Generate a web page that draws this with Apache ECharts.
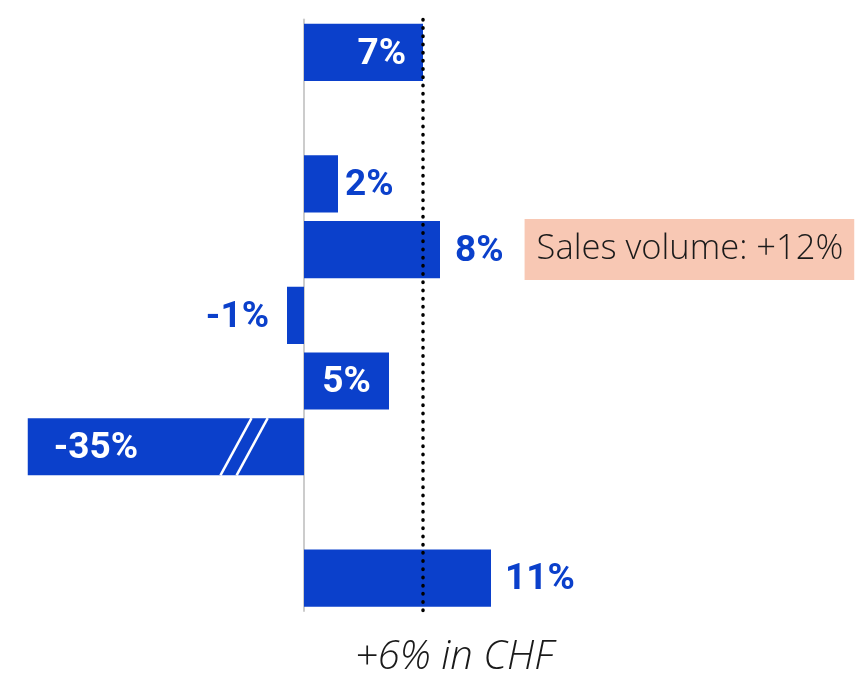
<!DOCTYPE html>
<html>
<head>
<meta charset="utf-8">
<script src="https://cdn.jsdelivr.net/npm/echarts@6/dist/echarts.min.js"></script>
<style>
html,body{margin:0;padding:0;background:#fff;}
#chart{width:861px;height:676px;}
</style>
</head>
<body>
<div id="chart"></div>
<script>
// ---- data ----
const categories = ['r1', 'r2', 'r3', 'r4', 'r5', 'r6', 'r7', 'r8', 'r9'];
const values = [7, null, 2, 8, -1, 5, -35, null, 11];
const labelTexts = ['7%', '', '2%', '8%', '-1%', '5%', '-35%', '', '11%'];
const labelPlacement = ['insideRight', null, 'right', 'right', 'left', 'inside', 'insideLeft', null, 'right'];
const labelDistance = [17, 0, 7, 15, 18, 0, 26, 0, 14];
const annotationIndex = 3;
const annotationText = 'Sales volume: +12%';
const referenceValue = 7;
const referenceLabel = '+6% in CHF';
const breakIndex = 6;
const breakValues = [-4, -3.05];

// ---- styles ----
const BLUE = '#0b40cb';
const FONT = 'Roboto';
const LIGHT_FONT = 'Open Sans';

const barData = values.map(function (v, i) {
  if (v === null) return { value: null };
  const pos = labelPlacement[i];
  const inside = pos.indexOf('inside') === 0;
  let fmt = labelTexts[i];
  const label = {
    show: true,
    position: pos,
    distance: labelDistance[i],
    offset: [0, 2],
    color: inside ? '#ffffff' : BLUE,
    fontFamily: FONT,
    fontWeight: 'bold',
    fontSize: 37
  };
  if (i === annotationIndex) {
    label.offset = [0, 0];
    label.formatter = '{v|' + fmt + '}{gap|}{box|' + annotationText + '}';
    label.rich = {
      v: { color: BLUE, fontFamily: FONT, fontWeight: 'bold', fontSize: 37, padding: [4, 0, 0, 0] },
      gap: { width: 21 },
      box: {
        backgroundColor: '#f8c8b4',
        color: '#1a1a1a',
        fontFamily: LIGHT_FONT,
        fontWeight: 300,
        fontSize: 34.5,
        padding: [13, 11, 13, 12]
      }
    };
  } else {
    label.formatter = fmt;
  }
  return { value: v, label: label };
});

const breakData = breakValues.map(function (b) { return [b, breakIndex]; });

const chart = echarts.init(document.getElementById('chart'), null, { renderer: 'canvas' });
chart.setOption({
  animation: false,
  backgroundColor: '#ffffff',
  title: {
    text: referenceLabel,
    left: 350,
    top: 633,
    textStyle: { fontFamily: LIGHT_FONT, fontStyle: 'italic', fontWeight: 300, fontSize: 40, color: '#1a1a1a' }
  },
  grid: { left: 27.75, right: 280.75, top: 19.6, bottom: 65, containLabel: false },
  xAxis: {
    type: 'value',
    min: -16.25,
    max: 16.25,
    show: false,
    splitLine: { show: false }
  },
  yAxis: {
    type: 'category',
    data: categories,
    inverse: true,
    axisLine: { show: true, onZero: true, lineStyle: { color: '#cccccc', width: 2 } },
    axisTick: { show: false },
    axisLabel: { show: false },
    splitLine: { show: false }
  },
  series: [
    {
      type: 'bar',
      data: barData,
      barWidth: '87%',
      itemStyle: { color: BLUE },
      clip: true,
      z: 2,
      markLine: {
        silent: true,
        symbol: 'none',
        label: { show: false },
        lineStyle: { color: '#000000', width: 3.5, type: [0.5, 7.7], cap: 'round' },
        data: [{ xAxis: referenceValue }]
      }
    },
    {
      type: 'custom',
      data: breakData,
      z: 5,
      renderItem: function (params, api) {
        const c = api.coord([api.value(0), api.value(1)]);
        const h = api.size([0, 1])[1] * 0.87;
        const dx = h * 0.272;
        return {
          type: 'line',
          shape: { x1: c[0] + dx, y1: c[1] - h / 2, x2: c[0] - dx, y2: c[1] + h / 2 },
          style: { stroke: '#ffffff', lineWidth: 2.5 }
        };
      }
    }
  ]
});
</script>
</body>
</html>
